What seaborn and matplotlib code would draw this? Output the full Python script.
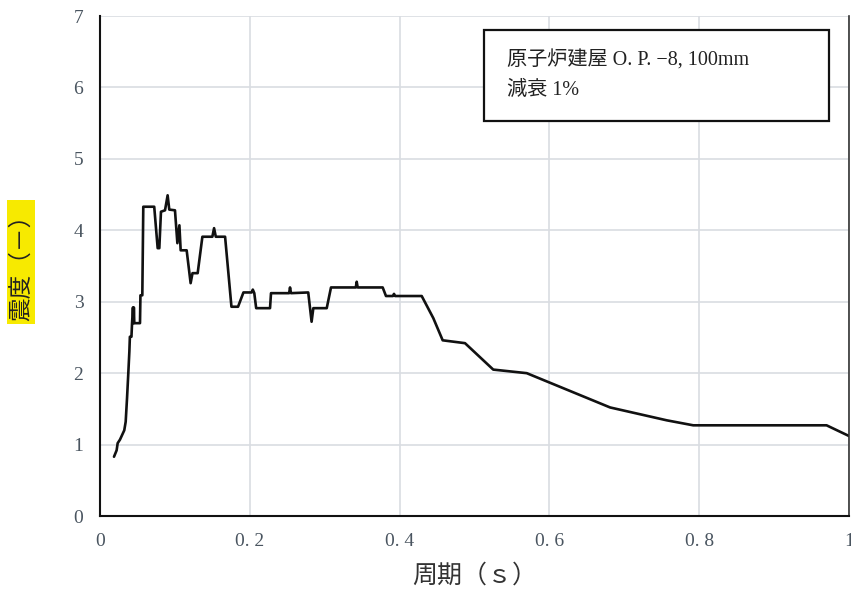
import matplotlib
matplotlib.use("Agg")
import matplotlib.pyplot as plt
import matplotlib.patches as mpatches
import pandas as pd
import seaborn as sns

# response spectrum (period in s, seismic coefficient)
period = [
    0.0187, 0.0222, 0.0236, 0.0267, 0.0289, 0.0324, 0.0343, 0.0361, 0.0378, 0.0392,
    0.0399, 0.0420, 0.0428, 0.0440, 0.0448, 0.0452, 0.0458, 0.0534, 0.0540, 0.0565,
    0.0578, 0.0724, 0.0770, 0.0792, 0.0814, 0.0868, 0.0903, 0.0925, 0.1001, 0.1033,
    0.1060, 0.1077, 0.1157, 0.1210, 0.1235, 0.1304, 0.1367, 0.1500, 0.1523, 0.1546,
    0.1670, 0.1755, 0.1843, 0.1915, 0.2025, 0.2040, 0.2060, 0.2085, 0.2270, 0.2283,
    0.2525, 0.2537, 0.2550, 0.2780, 0.2825, 0.2848, 0.3027, 0.3084, 0.3415, 0.3427,
    0.3440, 0.3774, 0.3818, 0.3910, 0.3925, 0.3940, 0.4295, 0.4450, 0.4575, 0.4873,
    0.5250, 0.5697, 0.6810, 0.7566, 0.7920, 0.9700, 1.0000,
]
intensity = [
    0.83, 0.92, 1.02, 1.07, 1.12, 1.20, 1.32, 1.65, 2.00, 2.30,
    2.51, 2.51, 2.70, 2.92, 2.70, 2.92, 2.70, 2.70, 3.09, 3.09,
    4.33, 4.33, 3.75, 3.75, 4.26, 4.28, 4.49, 4.29, 4.28, 3.82,
    4.07, 3.72, 3.72, 3.26, 3.40, 3.40, 3.91, 3.91, 4.03, 3.91,
    3.91, 2.93, 2.93, 3.13, 3.13, 3.17, 3.12, 2.91, 2.91, 3.12,
    3.12, 3.20, 3.12, 3.13, 2.72, 2.91, 2.91, 3.20, 3.20, 3.28,
    3.20, 3.20, 3.08, 3.08, 3.11, 3.08, 3.08, 2.77, 2.46, 2.42,
    2.05, 2.00, 1.52, 1.34, 1.27, 1.27, 1.12,
]

x_ticks = [0, 0.2, 0.4, 0.6, 0.8, 1.0]
x_ticklabels = ["0", "0. 2", "0. 4", "0. 6", "0. 8", "1"]
y_ticks = [0, 1, 2, 3, 4, 5, 6, 7]

legend_lines = ["原子炉建屋 O. P. −8, 100mm", "減衰 1%"]

df = pd.DataFrame({"period": period, "intensity": intensity})

sns.set_theme(style="whitegrid")
plt.rcParams["font.family"] = ["Liberation Serif", "Noto Sans CJK JP"]

fig = plt.figure(figsize=(8.51, 5.93), dpi=100)
ax = fig.add_axes([0.1175, 0.1298, 0.8802, 0.8432])

sns.lineplot(
    data=df, x="period", y="intensity", ax=ax,
    estimator=None, sort=False, color="#111111", linewidth=1.9,
)

ax.set_xlim(0, 1)
ax.set_ylim(0, 7)
ax.set_xticks(x_ticks)
ax.set_xticklabels(x_ticklabels)
ax.set_yticks(y_ticks)
ax.tick_params(axis="both", length=0, pad=12, labelsize=14, colors="#4a5560")
ax.grid(True, color="#d9dde2", linewidth=1.2)

for side in ["left", "bottom"]:
    ax.spines[side].set_color("#111111")
    ax.spines[side].set_linewidth(1.5)
ax.spines["right"].set_color("#333333")
ax.spines["right"].set_linewidth(1.2)
ax.spines["top"].set_visible(False)

ax.set_xlabel("周期（ｓ）", fontsize=18, color="#333333", labelpad=10)
ax.set_ylabel("")
ax.text(
    -0.105, 0.508, "震度（－）", transform=ax.transAxes, rotation=90,
    ha="center", va="center", fontsize=17, color="#222222",
    bbox=dict(boxstyle="square,pad=0.12", facecolor="#f7ea00", edgecolor="none"),
)

# annotation box in the upper right
box = mpatches.Rectangle(
    (0.5127, 0.790), 0.4606, 0.182, transform=ax.transAxes,
    facecolor="white", edgecolor="#111111", linewidth=1.6, zorder=5,
)
ax.add_patch(box)
ax.text(0.5434, 0.912, legend_lines[0], transform=ax.transAxes,
        fontsize=14.5, color="#222222", va="center", zorder=6)
ax.text(0.5434, 0.852, legend_lines[1], transform=ax.transAxes,
        fontsize=14.5, color="#222222", va="center", zorder=6)

plt.savefig("out.png", dpi=100)
